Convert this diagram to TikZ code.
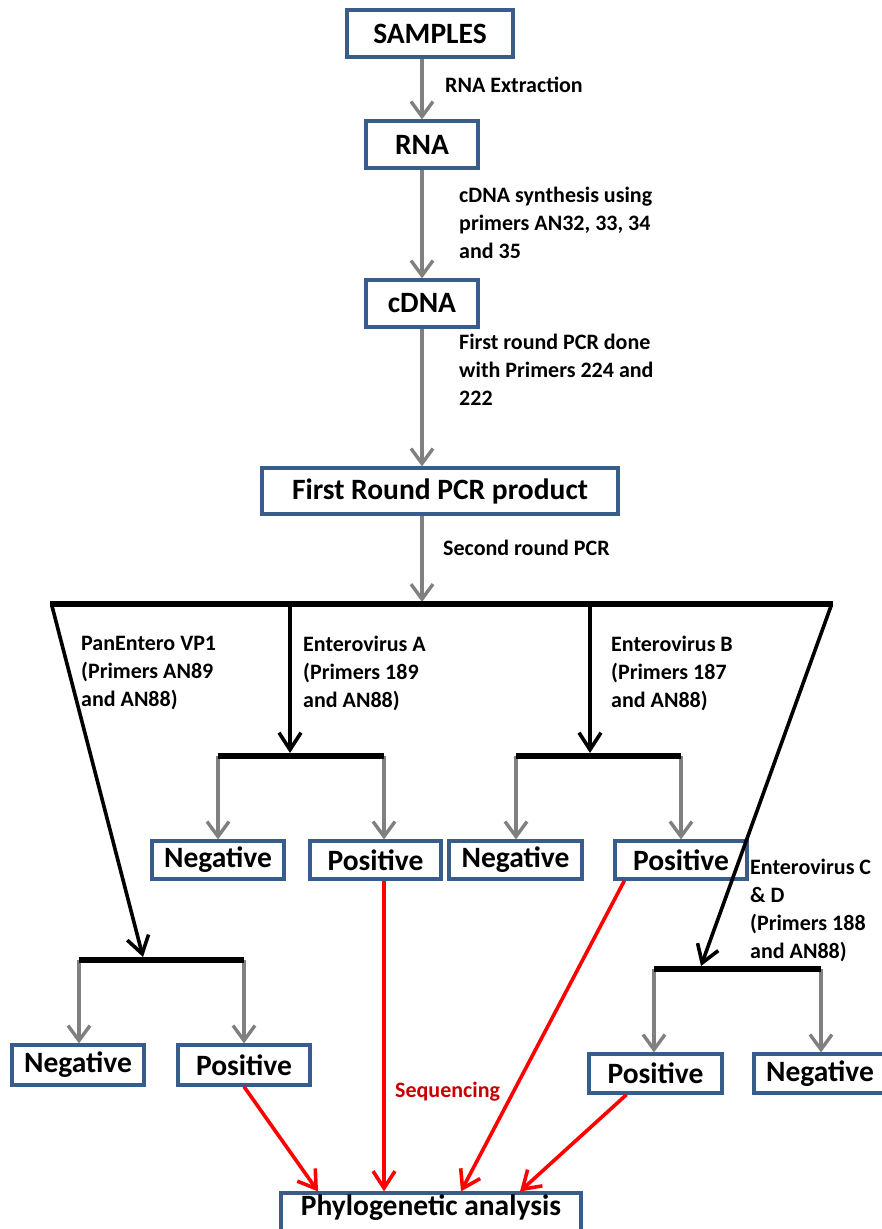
\documentclass[tikz,border=0pt]{standalone}
\usepackage{fontspec}
\setmainfont{Carlito}
\usetikzlibrary{arrows.meta}
\definecolor{boxblue}{RGB}{56,93,138}
\definecolor{arrgray}{RGB}{128,128,128}
\definecolor{seqred}{RGB}{200,0,0}

\begin{document}
\begin{tikzpicture}[x=1pt,y=-1pt,
  box/.style={draw=boxblue,line width=3.2pt,inner sep=0pt,font=\fontsize{29.5}{34}\selectfont\bfseries},
  lbl/.style={anchor=west,align=left,inner sep=0pt,font=\fontsize{22}{28}\selectfont\bfseries},
  garr/.style={draw=arrgray,line width=3.4pt,-{Straight Barb[length=15pt,width=22pt]}},
  barr/.style={draw=black,line width=3.6pt,-{Straight Barb[length=17pt,width=22pt]}},
  rarr/.style={draw=red,line width=3.6pt,-{Straight Barb[length=17pt,width=22pt]}},
  bar/.style={draw=black,line width=6pt}]
\path[use as bounding box] (0,0) rectangle (881,1229);
% boxes
\node[box,minimum width=166pt,minimum height=47pt] (samples) at (430,33.5) {SAMPLES};
\node[box,minimum width=112pt,minimum height=47pt] (rna) at (422,144.5) {RNA};
\node[box,minimum width=112pt,minimum height=47pt] (cdna) at (422,303.5) {cDNA};
\node[box,minimum width=356pt,minimum height=46pt] (pcr) at (440,491) {First Round PCR product};
\node[box,minimum width=132pt,minimum height=38pt] (negA) at (218,860) {Negative};
\node[box,minimum width=131pt,minimum height=38pt] (posA) at (375.5,860) {Positive};
\node[box,minimum width=133pt,minimum height=38pt] (negB) at (515.5,860) {Negative};
\node[box,minimum width=132pt,minimum height=38pt] (posB) at (681,860) {Positive};
\node[box,minimum width=132pt,minimum height=40pt] (negP) at (78,1065) {Negative};
\node[box,minimum width=132pt,minimum height=40pt] (posP) at (244,1065) {Positive};
\node[box,minimum width=133pt,minimum height=39pt] (posC) at (655.5,1073.5) {Positive};
\node[box,minimum width=132pt,minimum height=39pt] (negC) at (820,1073.5) {Negative};
\node[box,minimum width=300pt,minimum height=47pt,text depth=22pt] (phylo) at (431,1216.5) {Phylogenetic analysis};
% labels
\node[lbl] (lextr) at (445,85) {RNA Extraction};
\node[lbl] (lcdna) at (459,223) {cDNA synthesis using\\primers AN32, 33, 34\\and 35};
\node[lbl] (lfirst) at (459,370) {First round PCR done\\with Primers 224 and\\222};
\node[lbl] (lsecond) at (443,548) {Second round PCR};
\node[lbl] (lpan) at (81,673) {PanEntero VP1\\(Primers AN89\\and AN88)};
\node[lbl] (lenta) at (303,673) {Enterovirus A\\(Primers 189\\and AN88)};
\node[lbl] (lentb) at (611,673) {Enterovirus B\\(Primers 187\\and AN88)};
\node[lbl] (lentc) at (750,910) {Enterovirus C\\\& D\\(Primers 188\\and AN88)};
\node[lbl,text=seqred] (lseq) at (395,1092) {Sequencing};
% branch points
\coordinate (split) at (422,602);
\coordinate (barL) at (50,604);
\coordinate (barR) at (833,604);
\coordinate (topL) at (52,606);
\coordinate (tipP) at (143,957);
\coordinate (topR) at (831,606);
\coordinate (tipC) at (701,966);
\coordinate (topA) at (290,604);
\coordinate (tipA) at (290,753);
\coordinate (topB) at (590,604);
\coordinate (tipB) at (590,753);
\coordinate (subAL) at (218,756);
\coordinate (subAR) at (384,756);
\coordinate (subBL) at (516,756);
\coordinate (subBR) at (681,756);
\coordinate (subPL) at (79,960);
\coordinate (subPR) at (244,960);
\coordinate (subCL) at (654,969);
\coordinate (subCR) at (821,969);
% main chain
\draw[garr] (samples.south -| rna.north) -- (rna.north);
\draw[garr] (rna) -- (cdna);
\draw[garr] (cdna.south) -- (cdna.south |- pcr.north);
\draw[garr] (cdna.south |- pcr.south) -- (split);
% second round branches
\draw[barr] (topL) -- (tipP);
\draw[barr] (topR) -- (tipC);
\draw[barr] (topA) -- (tipA);
\draw[barr] (topB) -- (tipB);
\foreach \s/\b in {subAL/negA,subAR/posA,subBL/negB,subBR/posB,subPL/negP,subPR/posP,subCL/posC,subCR/negC}
  \draw[garr] (\s) -- (\s |- \b.north);
\draw[bar] (barL) -- (barR);
\draw[bar] (subAL) -- (subAR);
\draw[bar] (subBL) -- (subBR);
\draw[bar] (subPL) -- (subPR);
\draw[bar] (subCL) -- (subCR);
% sequencing
\draw[rarr] (posP.south) -- ([xshift=-113pt]phylo.north);
\draw[rarr] (subAR |- posA.south) -- (subAR |- phylo.north);
\draw[rarr] ([xshift=11pt]posB.south west) -- ([xshift=30pt]phylo.north);
\draw[rarr] ([xshift=-29pt]posC.south) -- ([xshift=89pt]phylo.north);
\end{tikzpicture}
\end{document}
